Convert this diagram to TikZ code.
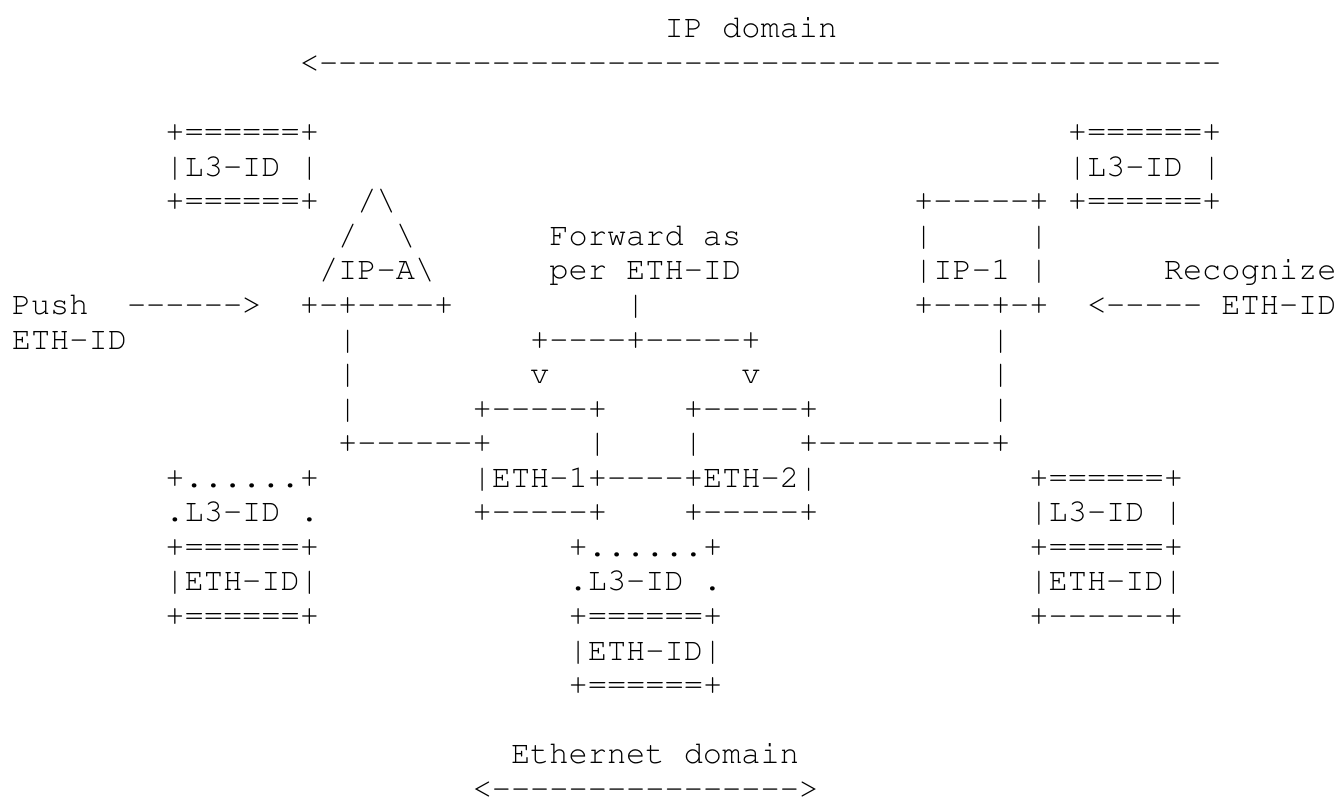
\documentclass[tikz,border=0pt]{standalone}
\usepackage[T1]{fontenc}
\usepackage{tikz}
\tikzstyle{every node}=[anchor=base west, inner sep=0pt, outer sep=0pt, font=\fontfamily{pcr}\fontsize{24pt}{24pt}\selectfont]
% a row of single hyphens (no en-dash ligature)
\newcommand{\dashes}[1]{\foreach\k in {1,...,#1}{-}}

\begin{document}
\begin{tikzpicture}[x=14.4pt, y=-25.92pt]
\useasboundingbox (-8.85pt,28.5pt) rectangle (993.9pt,-570pt);
% Domains
    \node (ipdom) at (34,0) {IP domain};
    \node (iparrow) at (15,1) {<\dashes{47}};
    \node (ethdom) at (26,21) {Ethernet domain};
    \node (etharrow) at (24,22) {<\dashes{16}>};
% L3-ID boxes, top
    \node (lthreeAtop) at (8,3) {+======+};
    \node (lthreeAmid) at (8,4) {|L3-ID |};
    \node (lthreeAbot) at (8,5) {+======+};
    \node (lthreeBtop) at (55,3) {+======+};
    \node (lthreeBmid) at (55,4) {|L3-ID |};
    \node (lthreeBbot) at (55,5) {+======+};
% IP-A
    \node (ipaTip) at (18,5) {/\textbackslash};
    \node (ipaSideL) at (17,6) {/};
    \node (ipaSideR) at (20,6) {\textbackslash};
    \node (ipaName) at (16,7) {/IP-A\textbackslash};
    \node (ipaBase) at (15,8) {+-+\dashes{4}+};
    \node (pushA) at (0,8) {Push};
    \node (pushArrow) at (6,8) {\dashes{6}>};
    \node (pushB) at (0,9) {ETH-ID};
% IP-1
    \node (ipOneTop) at (47,5) {+\dashes{5}+};
    \node (ipOneSideL) at (47,6) {|};
    \node (ipOneSideR) at (53,6) {|};
    \node (ipOneName) at (47,7) {|IP-1 |};
    \node (ipOneBase) at (47,8) {+\dashes{3}+-+};
    \node (recA) at (60,7) {Recognize};
    \node (recArrow) at (56,8) {<\dashes{5}};
    \node (recB) at (63,8) {ETH-ID};
% Forward as per ETH-ID
    \node (fwdA) at (28,6) {Forward as};
    \node (fwdB) at (28,7) {per ETH-ID};
    \node (fwdStem) at (32,8) {|};
    \node (fwdFork) at (27,9) {+\dashes{4}+\dashes{5}+};
    \node (fwdArrowA) at (27,10) {v};
    \node (fwdArrowB) at (38,10) {v};
% Links down to the switches
    \node (legA1) at (17,9) {|};
    \node (legA2) at (17,10) {|};
    \node (legA3) at (17,11) {|};
    \node (legAend) at (17,12) {+\dashes{6}+};
    \node (legB1) at (51,9) {|};
    \node (legB2) at (51,10) {|};
    \node (legB3) at (51,11) {|};
    \node (legBend) at (41,12) {+\dashes{9}+};
% ETH-1 and ETH-2
    \node (ethOneTop) at (24,11) {+\dashes{5}+};
    \node (ethTwoTop) at (35,11) {+\dashes{5}+};
    \node (ethOneSide) at (30,12) {|};
    \node (ethTwoSide) at (35,12) {|};
    \node (ethMid) at (24,13) {|ETH-1+\dashes{4}+ETH-2|};
    \node (ethOneBot) at (24,14) {+\dashes{5}+};
    \node (ethTwoBot) at (35,14) {+\dashes{5}+};
% Frames, left
    \node (frALa) at (8,13) {+......+};
    \node (frALb) at (8,14) {.L3-ID .};
    \node (frALc) at (8,15) {+======+};
    \node (frALd) at (8,16) {|ETH-ID|};
    \node (frALe) at (8,17) {+======+};
% Frames, middle
    \node (frMa) at (29,15) {+......+};
    \node (frMb) at (29,16) {.L3-ID .};
    \node (frMc) at (29,17) {+======+};
    \node (frMd) at (29,18) {|ETH-ID|};
    \node (frMe) at (29,19) {+======+};
% Frames, right
    \node (frRa) at (53,13) {+======+};
    \node (frRb) at (53,14) {|L3-ID |};
    \node (frRc) at (53,15) {+======+};
    \node (frRd) at (53,16) {|ETH-ID|};
    \node (frRe) at (53,17) {+\dashes{6}+};
\end{tikzpicture}
\end{document}
